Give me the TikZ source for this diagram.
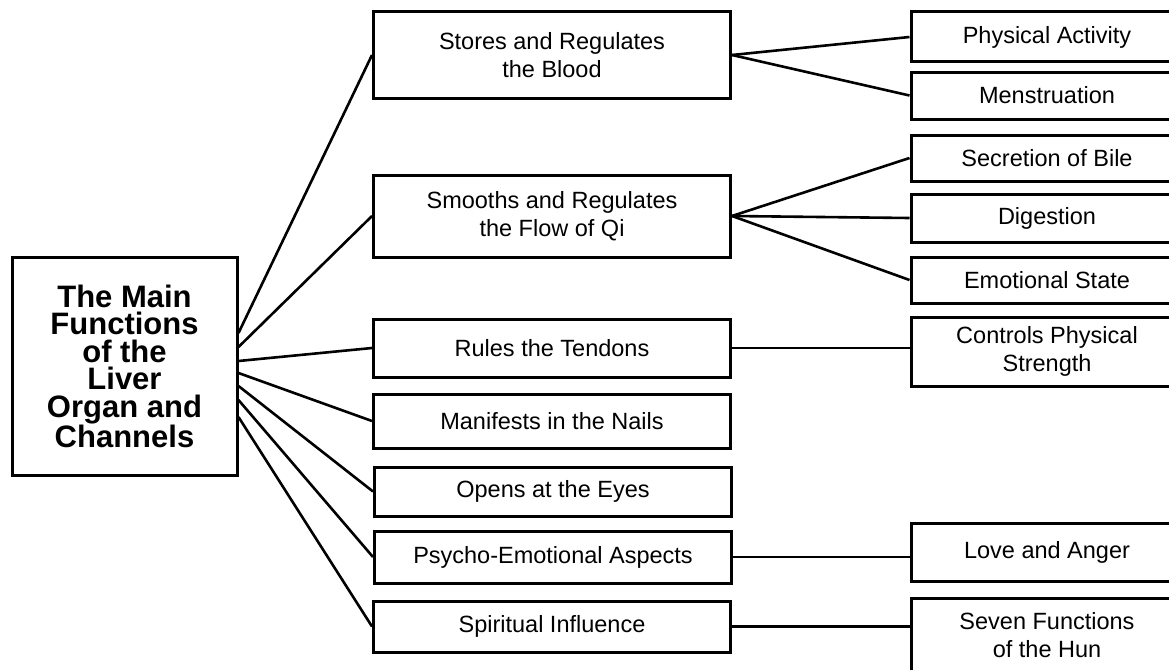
\documentclass[tikz,border=0pt]{standalone}
\usepackage{fontspec}
\setmainfont{Liberation Sans}
\usetikzlibrary{positioning}

\begin{document}
\begin{tikzpicture}[x=1pt, y=-1pt, line width=2.6pt,
    every node/.style={font=\fontsize{23.5}{28}\selectfont, align=center, inner sep=0pt},
    box/.style={draw, line width=3pt, minimum width=357pt},
    leaf/.style={draw, line width=3pt, minimum width=272pt}]
    \useasboundingbox (0,0) rectangle (1169,669);
    \clip (0,0) rectangle (1169,669);
    % Root
    \node[draw, line width=3pt, minimum width=225pt, minimum height=218pt,
          font=\fontsize{31}{27.5}\selectfont\bfseries] (liver) at (124.5,366)
          {The Main\\Functions\\of the\\Liver\\Organ and\\Channels};
    % Functions
    \node[box, minimum height=86pt] (blood) at (552,55) {Stores and Regulates\\the Blood};
    \node[box, minimum height=82pt] (qi) at (552,216) {Smooths and Regulates\\ the Flow of Qi};
    \node[box, minimum height=58pt] (tendons) at (552,348) {Rules the Tendons};
    \node[box, minimum height=54pt] (nails) at (552,421) {Manifests in the Nails};
    \node[box, minimum height=49pt] (eyes) at (553,491.5) {Opens at the Eyes};
    \node[box, minimum height=52pt] (psycho) at (553,557) {Psycho-Emotional Aspects};
    \node[box, minimum height=51pt] (spirit) at (552,626.5) {Spiritual Influence};
    % Details
    \node[leaf, minimum height=50pt] (activity) at (1047,37) {Physical Activity};
    \node[leaf, minimum height=47pt] (menses) at (1047,95.5) {Menstruation};
    \node[leaf, minimum height=46pt] (bile) at (1047,158) {Secretion of Bile};
    \node[leaf, minimum height=48pt] (digest) at (1047,218) {Digestion};
    \node[leaf, minimum height=46pt] (emotion) at (1047,280) {Emotional State};
    \node[leaf, minimum height=69pt] (strength) at (1047,351.5) {Controls Physical\\Strength};
    \node[leaf, minimum height=58pt] (anger) at (1047,552) {Love and Anger};
    \node[leaf, minimum height=74pt] (hun) at (1047,635) {Seven Functions\\of the Hun};
    % Root to functions
    \draw ([yshift=33pt]liver.east) -- (blood.west);
    \draw ([yshift=19pt]liver.east) -- (qi.west);
    \draw ([yshift=5pt]liver.east) -- (tendons.west);
    \draw ([yshift=-7pt]liver.east) -- (nails.west);
    \draw ([yshift=-20pt]liver.east) -- (eyes.west);
    \draw ([yshift=-34pt]liver.east) -- (psycho.west);
    \draw ([yshift=-51pt]liver.east) -- (spirit.west);
    % Functions to details
    \draw (blood.east) -- (activity.west);
    \draw (blood.east) -- (menses.west);
    \draw (qi.east) -- (bile.west);
    \draw (qi.east) -- (digest.west);
    \draw (qi.east) -- (emotion.west);
    \draw (tendons.east) -- (tendons.east -| strength.west);
    \draw (psycho.east) -- (psycho.east -| anger.west);
    \draw (spirit.east) -- (spirit.east -| hun.west);
\end{tikzpicture}
\end{document}
